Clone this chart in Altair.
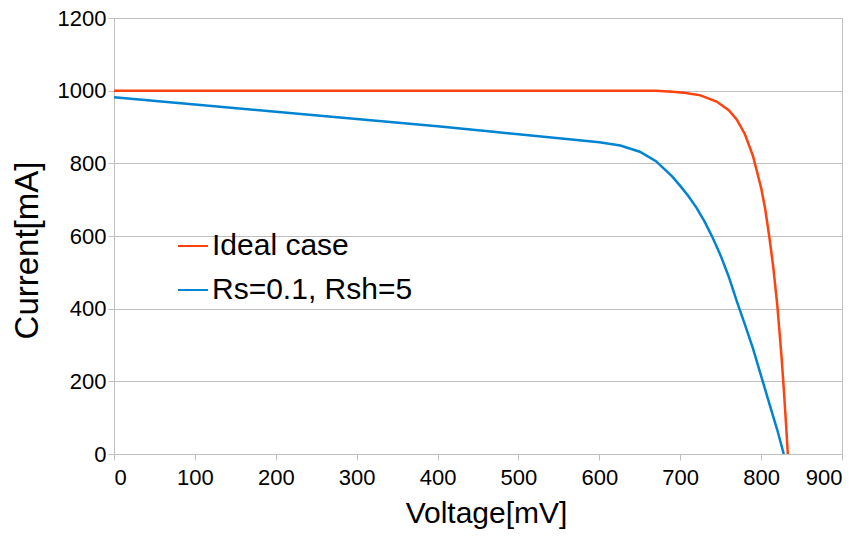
import altair as alt
import pandas as pd

series_names = ["Ideal case", "Rs=0.1, Rsh=5"]
colors = ["#ff420e", "#0084d1"]

ideal_v = [0, 100, 200, 300, 400, 500, 600, 670, 690, 705, 725, 745, 760, 770, 780, 790, 800, 805, 810, 815, 820, 825, 828, 831, 833]
ideal_i = [1000, 1000, 1000, 1000, 1000, 1000, 1000, 1000, 997, 994, 987, 970, 946, 920, 880, 820, 733, 675, 600, 515, 410, 275, 180, 75, 0]

rs_v = [0, 100, 200, 300, 400, 469, 500, 550, 600, 626, 650, 670, 690, 700, 710, 720, 730, 740, 750, 760, 770, 780, 790, 800, 810, 820, 828]
rs_i = [982, 962, 942, 922, 902, 887, 880, 869, 858, 849, 832, 806, 764, 738, 710, 678, 640, 596, 546, 488, 420, 356, 290, 215, 140, 66, 0]

rows = []
for k, (vs, cs) in enumerate([(ideal_v, ideal_i), (rs_v, rs_i)]):
    for j, (v, c) in enumerate(zip(vs, cs)):
        rows.append({"series": series_names[k], "V": v, "I": c, "idx": j})
df = pd.DataFrame(rows)

FONT = "Liberation Sans"
GRID = "#c0c0c0"

chart = alt.Chart(df).mark_line(strokeWidth=2.5).encode(
    x=alt.X("V:Q", scale=alt.Scale(domain=[0, 900], nice=False),
            axis=alt.Axis(title="Voltage[mV]", values=list(range(0, 901, 100)),
                          format="d", grid=False, tickSize=6, labelPadding=7,
                          titleX=372, titleY=68, titleBaseline="alphabetic",
                          titleFontSize=30)),
    y=alt.Y("I:Q", scale=alt.Scale(domain=[0, 1200], nice=False),
            axis=alt.Axis(title="Current[mA]", values=list(range(0, 1201, 200)),
                          format="d", grid=True, tickSize=6, labelPadding=2,
                          titleX=-87, titleY=232, titleBaseline="middle",
                          titleAngle=270, titleFontSize=33)),
    color=alt.Color("series:N",
                    scale=alt.Scale(domain=series_names, range=colors),
                    legend=alt.Legend(title=None, orient="none", legendX=63, legendY=212,
                                      symbolType="stroke", symbolSize=900,
                                      symbolStrokeWidth=2, labelFontSize=30,
                                      labelFont=FONT, labelColor="#000000",
                                      labelLimit=500,
                                      rowPadding=13, padding=0, labelOffset=3)),
    order="idx:Q",
).properties(
    width=728, height=436,
    autosize=alt.AutoSizeParams(type="none"),
    padding={"left": 106, "top": 10, "right": 15, "bottom": 76},
).configure_view(
    stroke=GRID, strokeWidth=1
).configure_axis(
    labelFont=FONT, titleFont=FONT, labelFontSize=22, labelColor="#000000",
    titleColor="#000000", titleFontWeight="normal",
    domainColor=GRID, tickColor=GRID, gridColor=GRID, gridWidth=1,
)

chart.save("out.html", embed_options={"renderer": "svg", "actions": False})
